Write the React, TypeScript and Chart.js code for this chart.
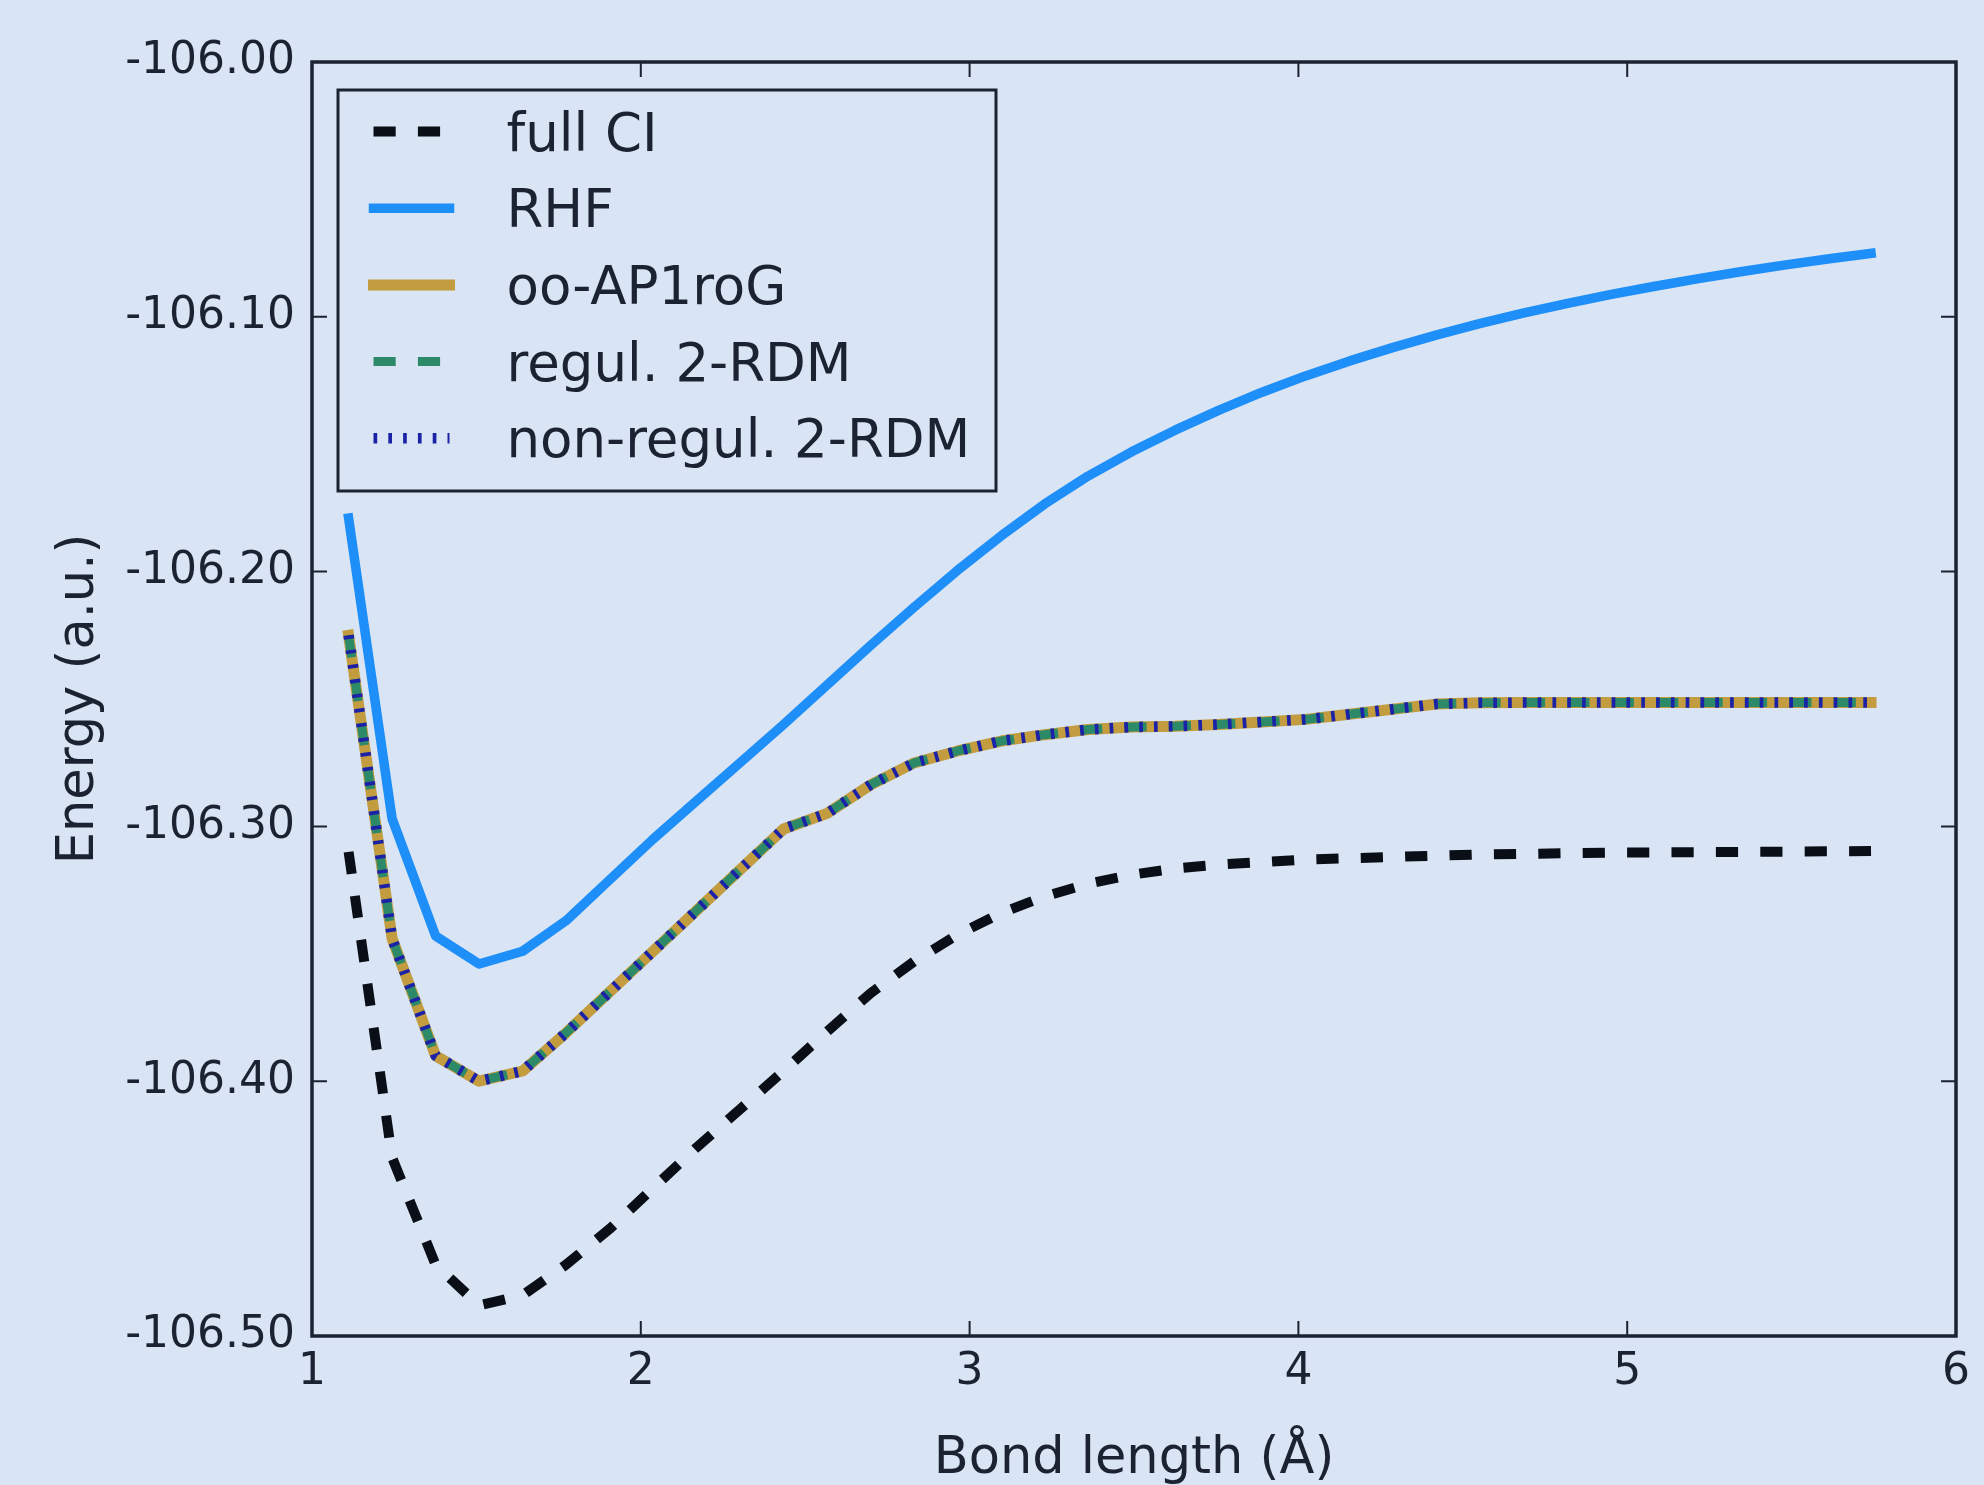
import { useEffect, useRef } from 'react';
import { Chart, registerables } from 'chart.js';

Chart.register(...registerables);

// Bond length grid (Å)
const bondLength = [
  1.1113, 1.2436, 1.3759, 1.5082, 1.6404, 1.7727, 1.905, 2.0373, 2.1696, 2.3019,
  2.4342, 2.5665, 2.6988, 2.8311, 2.9634, 3.0957, 3.228, 3.3603, 3.4926, 3.6249,
  3.7572, 3.8895, 4.0217, 4.154, 4.2863, 4.4186, 4.5509, 4.6832, 4.8155, 4.9478,
  5.0801, 5.2124, 5.3447, 5.477, 5.6093, 5.7416,
];

const fullCI = [
  -106.31, -106.43, -106.472, -106.488, -106.484, -106.472, -106.458, -106.442, -106.426, -106.411,
  -106.396, -106.3805, -106.3655, -106.353, -106.3425, -106.334, -106.3275, -106.3225, -106.319, -106.3165,
  -106.315, -106.314, -106.313, -106.3125, -106.312, -106.3115, -106.311, -106.3108, -106.3105, -106.3103,
  -106.3102, -106.3101, -106.31, -106.3099, -106.3098, -106.3097,
];

const rhf = [
  -106.179, -106.297, -106.343, -106.354, -106.349, -106.337, -106.321, -106.305, -106.29, -106.275,
  -106.26, -106.2445, -106.229, -106.214, -106.1995, -106.186, -106.1735, -106.1625, -106.153, -106.1445,
  -106.1367, -106.1296, -106.1232, -106.1174, -106.1121, -106.1072, -106.1027, -106.0986, -106.0948, -106.0913,
  -106.0881, -106.0851, -106.0823, -106.0797, -106.0773, -106.0751,
];

const ooAP1roG = [
  -106.225, -106.344, -106.39, -106.4, -106.396, -106.381, -106.365, -106.349, -106.333, -106.317,
  -106.301, -106.2949, -106.2837, -106.2751, -106.2704, -106.2665, -106.264, -106.262, -106.261, -106.2607,
  -106.26, -106.259, -106.258, -106.256, -106.254, -106.252, -106.2515, -106.2514, -106.2514, -106.2514,
  -106.2514, -106.2514, -106.2514, -106.2514, -106.2514, -106.2514,
];

const regul2RDM = [
  -106.225, -106.344, -106.39, -106.4, -106.396, -106.381, -106.365, -106.349, -106.333, -106.317,
  -106.301, -106.2949, -106.2837, -106.2751, -106.2704, -106.2665, -106.264, -106.262, -106.261, -106.2607,
  -106.26, -106.259, -106.258, -106.256, -106.254, -106.252, -106.2515, -106.2514, -106.2514, -106.2514,
  -106.2514, -106.2514, -106.2514, -106.2514, -106.2514, -106.2514,
];

const nonRegul2RDM = [
  -106.225, -106.344, -106.39, -106.4, -106.396, -106.381, -106.365, -106.349, -106.333, -106.317,
  -106.301, -106.2949, -106.2837, -106.2751, -106.2704, -106.2665, -106.264, -106.262, -106.261, -106.2607,
  -106.26, -106.259, -106.258, -106.256, -106.254, -106.252, -106.2515, -106.2514, -106.2514, -106.2514,
  -106.2514, -106.2514, -106.2514, -106.2514, -106.2514, -106.2514,
];

const xTicks = [1, 2, 3, 4, 5, 6];
const yTicks = [-106.5, -106.4, -106.3, -106.2, -106.1, -106.0];

const seriesLabels = ['full CI', 'RHF', 'oo-AP1roG', 'regul. 2-RDM', 'non-regul. 2-RDM'];

const BG = '#d9e5f4';
const INK = '#1b2231';
const FONT = "'DejaVu Sans', 'Liberation Sans', sans-serif";

const W = 1984;
const H = 1485;

const pts = (ys: number[]) => bondLength.map((x, i) => ({ x, y: ys[i] }));

const bgPlugin = {
  id: 'bg',
  beforeDraw(chart: any) {
    const ctx = chart.ctx;
    ctx.save();
    ctx.fillStyle = BG;
    ctx.fillRect(0, 0, chart.width, chart.height);
    ctx.restore();
  },
};

const framePlugin = {
  id: 'frame',
  afterDatasetsDraw(chart: any) {
    const ctx = chart.ctx;
    const { left, right, top, bottom } = chart.chartArea;
    const xs = chart.scales.x;
    const ys = chart.scales.y;
    ctx.save();
    ctx.strokeStyle = INK;
    ctx.lineWidth = 2;
    const tl = 15;
    ctx.beginPath();
    xTicks.forEach((v) => {
      const px = xs.getPixelForValue(v);
      ctx.moveTo(px, bottom);
      ctx.lineTo(px, bottom - tl);
      ctx.moveTo(px, top);
      ctx.lineTo(px, top + tl);
    });
    yTicks.forEach((v) => {
      const py = ys.getPixelForValue(v);
      ctx.moveTo(left, py);
      ctx.lineTo(left + tl, py);
      ctx.moveTo(right, py);
      ctx.lineTo(right - tl, py);
    });
    ctx.stroke();
    ctx.lineWidth = 3.5;
    ctx.strokeRect(left, top, right - left, bottom - top);
    ctx.restore();
  },
};

const legendPlugin = {
  id: 'mplLegend',
  afterDraw(chart: any) {
    const ctx = chart.ctx;
    const { left, top } = chart.chartArea;
    const bx = left + 26;
    const by = top + 28;
    const bw = 658;
    const bh = 401;
    ctx.save();
    ctx.fillStyle = BG;
    ctx.fillRect(bx, by, bw, bh);
    ctx.strokeStyle = INK;
    ctx.lineWidth = 3;
    ctx.strokeRect(bx, by, bw, bh);
    const rowStart = by + 41.5;
    const rowStep = 76.7;
    chart.data.datasets.forEach((ds: any, row: number) => {
      const cy = rowStart + row * rowStep;
      ctx.save();
      ctx.beginPath();
      ctx.strokeStyle = ds.borderColor;
      ctx.lineWidth = ds.borderWidth;
      ctx.lineCap = ds.borderCapStyle || 'butt';
      ctx.setLineDash(ds.borderDash || []);
      ctx.lineDashOffset = 0;
      ctx.moveTo(bx + 35.5, cy);
      ctx.lineTo(bx + 111.5, cy);
      ctx.stroke();
      ctx.restore();
      ctx.fillStyle = INK;
      ctx.font = `53px ${FONT}`;
      ctx.textAlign = 'left';
      ctx.textBaseline = 'alphabetic';
      ctx.fillText(ds.label, bx + 168.5, cy + 19);
    });
    ctx.restore();
  },
};

export default function App() {
  const ref = useRef<HTMLCanvasElement | null>(null);

  useEffect(() => {
    document.body.style.margin = '0';
    document.body.style.overflow = 'hidden';
    const canvas = ref.current;
    if (!canvas) return;
    const chart = new Chart(canvas, {
      type: 'line',
      data: {
        datasets: [
          {
            label: seriesLabels[0],
            data: pts(fullCI),
            borderColor: '#0a0e17',
            borderWidth: 10,
            borderDash: [22.2, 22.2],
            borderCapStyle: 'butt',
            borderJoinStyle: 'round',
            pointRadius: 0,
            tension: 0,
            order: 5,
          },
          {
            label: seriesLabels[1],
            data: pts(rhf),
            borderColor: '#1e8ef8',
            borderWidth: 9.5,
            borderCapStyle: 'square',
            borderJoinStyle: 'round',
            pointRadius: 0,
            tension: 0,
            order: 4,
          },
          {
            label: seriesLabels[2],
            data: pts(ooAP1roG),
            borderColor: '#c29c3e',
            borderWidth: 11,
            borderCapStyle: 'square',
            borderJoinStyle: 'round',
            pointRadius: 0,
            tension: 0,
            order: 3,
          },
          {
            label: seriesLabels[3],
            data: pts(regul2RDM),
            borderColor: '#2d8a68',
            borderWidth: 9,
            borderDash: [22.2, 22.2],
            borderCapStyle: 'butt',
            borderJoinStyle: 'round',
            pointRadius: 0,
            tension: 0,
            order: 2,
          },
          {
            label: seriesLabels[4],
            data: pts(nonRegul2RDM),
            borderColor: '#1b22a8',
            borderWidth: 10.5,
            borderDash: [3.7, 11.1],
            borderCapStyle: 'butt',
            borderJoinStyle: 'round',
            pointRadius: 0,
            tension: 0,
            order: 1,
          },
        ],
      },
      options: {
        responsive: false,
        animation: false,
        devicePixelRatio: 1,
        layout: { padding: { top: 62, right: 28, left: 0, bottom: 0 } },
        plugins: {
          legend: { display: false },
          tooltip: { enabled: false },
        },
        scales: {
          x: {
            type: 'linear',
            min: 1,
            max: 6,
            afterBuildTicks: (s: any) => {
              s.ticks = xTicks.map((v) => ({ value: v }));
            },
            afterFit: (s: any) => {
              s.height = 149;
            },
            ticks: {
              font: { family: FONT, size: 44 },
              color: INK,
              padding: 10,
              maxRotation: 0,
              autoSkip: false,
              callback: (v: any) => String(v),
            },
            grid: { display: false, drawTicks: false },
            border: { display: false },
            title: {
              display: true,
              text: 'Bond length (Å)',
              font: { family: FONT, size: 51, lineHeight: 1 },
              color: INK,
              padding: { top: 0, bottom: 0 },
            },
          },
          y: {
            type: 'linear',
            min: -106.5,
            max: -106.0,
            afterBuildTicks: (s: any) => {
              s.ticks = yTicks.map((v) => ({ value: v }));
            },
            afterFit: (s: any) => {
              s.width = 312;
            },
            ticks: {
              font: { family: FONT, size: 44 },
              color: INK,
              padding: 17,
              autoSkip: false,
              callback: (v: any) => Number(v).toFixed(2),
            },
            grid: { display: false, drawTicks: false },
            border: { display: false },
            title: {
              display: true,
              text: 'Energy (a.u.)',
              font: { family: FONT, size: 51, lineHeight: 1 },
              color: INK,
              padding: { top: 54, bottom: 0 },
            },
          },
        },
      },
      plugins: [bgPlugin, framePlugin, legendPlugin],
    } as any);
    return () => chart.destroy();
  }, []);

  return (
    <div style={{ position: 'absolute', left: 0, top: 0, width: W, height: H, background: BG }}>
      <canvas ref={ref} width={W} height={H} style={{ display: 'block', width: W, height: H }} />
    </div>
  );
}
